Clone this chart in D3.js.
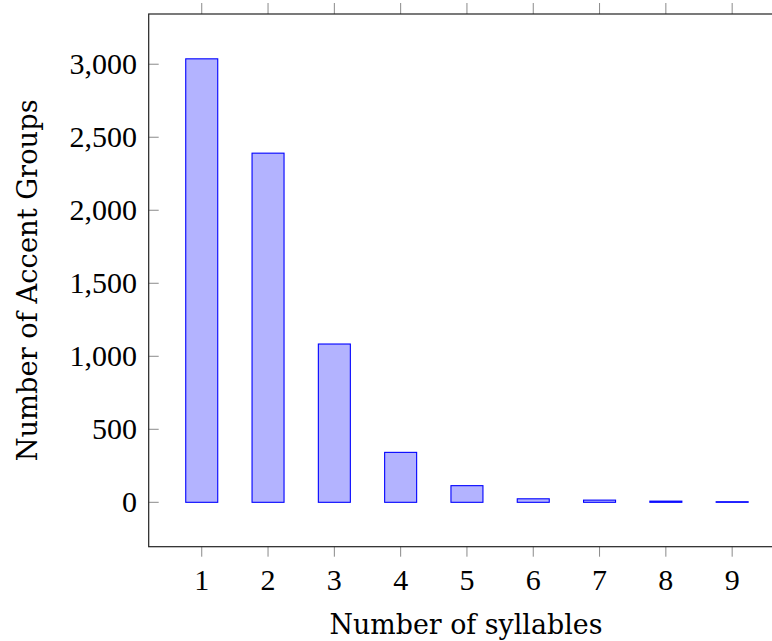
<!DOCTYPE html>
<html>
<head>
<meta charset="utf-8">
<script src="https://cdn.jsdelivr.net/npm/d3@7"></script>
<style>
  html, body { margin: 0; padding: 0; background: #fff; }
  svg { display: block; }
</style>
</head>
<body>
<div id="chart"></div>
<script>
const categories = [1, 2, 3, 4, 5, 6, 7, 8, 9];
const values = [3037, 2391, 1084, 342, 114, 24, 15, 8, 4];
const yTicks = [0, 500, 1000, 1500, 2000, 2500, 3000];
const xLabel = "Number of syllables";
const yLabel = "Number of Accent Groups";

(function () {
const W = 772, H = 641;
const svg = d3.select("#chart").append("svg").attr("width", W).attr("height", H);

const pLeft = 148.7, pRight = 785.2, pTop = 14, pBottom = 546.7;
const x = d3.scaleLinear().domain([0.2, 9.8]).range([pLeft, pRight]);
const y = d3.scaleLinear().domain([-304, 3344]).range([pBottom, pTop]);
const barW = 32;
const tickFont = "'Liberation Serif', 'Times New Roman', serif";
const labelFont = "'DejaVu Serif', serif";

// bars
svg.append("g").selectAll("rect").data(categories).join("rect")
  .attr("x", (d) => x(d) - barW / 2)
  .attr("width", barW)
  .attr("y", (d, i) => y(values[i]))
  .attr("height", (d, i) => y(0) - y(values[i]))
  .attr("fill", "#b3b3ff")
  .attr("stroke", "#0000ff")
  .attr("stroke-width", 1.1);

// x ticks (outside, top and bottom)
const tickColor = "#8a8a8a";
const xt = svg.append("g");
xt.selectAll("line.b").data(categories).join("line").attr("class", "b")
  .attr("x1", d => x(d)).attr("x2", d => x(d))
  .attr("y1", pBottom).attr("y2", pBottom + 10)
  .attr("stroke", tickColor).attr("stroke-width", 1);
xt.selectAll("line.t").data(categories).join("line").attr("class", "t")
  .attr("x1", d => x(d)).attr("x2", d => x(d))
  .attr("y1", pTop).attr("y2", pTop - 11)
  .attr("stroke", tickColor).attr("stroke-width", 1);
xt.selectAll("text").data(categories).join("text")
  .attr("x", d => x(d)).attr("y", 590)
  .attr("text-anchor", "middle")
  .attr("font-family", tickFont).attr("font-size", 30)
  .attr("fill", "#000")
  .text(d => d);

// y ticks (inside left)
const fmt = d3.format(",");
const yt = svg.append("g");
yt.selectAll("line").data(yTicks).join("line")
  .attr("x1", pLeft).attr("x2", pLeft + 10)
  .attr("y1", d => y(d)).attr("y2", d => y(d))
  .attr("stroke", tickColor).attr("stroke-width", 1);
yt.selectAll("text").data(yTicks).join("text")
  .attr("x", 137).attr("y", d => y(d))
  .attr("dy", "0.33em")
  .attr("text-anchor", "end")
  .attr("font-family", tickFont).attr("font-size", 30)
  .attr("fill", "#000")
  .text(d => fmt(d));

// axis frame
svg.append("rect")
  .attr("x", pLeft).attr("y", pTop)
  .attr("width", pRight - pLeft).attr("height", pBottom - pTop)
  .attr("fill", "none").attr("stroke", "#222").attr("stroke-width", 1.2);

// axis labels
svg.append("text")
  .attr("x", (pLeft + pRight) / 2 - 1).attr("y", 634)
  .attr("text-anchor", "middle")
  .attr("font-family", labelFont).attr("font-size", 28)
  .attr("textLength", 273).attr("lengthAdjust", "spacingAndGlyphs")
  .attr("fill", "#000")
  .text(xLabel);

svg.append("text")
  .attr("transform", `translate(37, ${(pTop + pBottom) / 2}) rotate(-90)`)
  .attr("text-anchor", "middle")
  .attr("font-family", labelFont).attr("font-size", 28)
  .attr("textLength", 362).attr("lengthAdjust", "spacingAndGlyphs")
  .attr("fill", "#000")
  .text(yLabel);
})();
</script>
</body>
</html>
